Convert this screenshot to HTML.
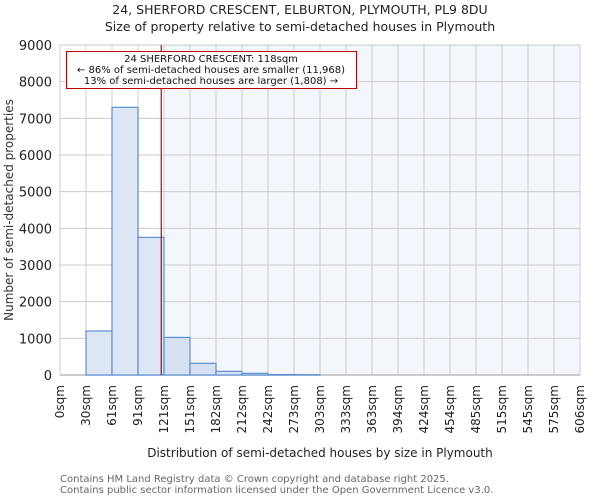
<!DOCTYPE html>
<html><head><meta charset="utf-8"><style>
body{margin:0;background:#fff;font-family:"DejaVu Sans","Liberation Sans",sans-serif;}
svg text{font-family:"DejaVu Sans","Liberation Sans",sans-serif;}
</style></head><body>
<svg id="chart" width="600" height="500" xmlns="http://www.w3.org/2000/svg">
<text x="300" y="14" text-anchor="middle" font-size="12.5" fill="#222">24, SHERFORD CRESCENT, ELBURTON, PLYMOUTH, PL9 8DU</text>
<text x="300" y="31" text-anchor="middle" font-size="12.5" fill="#222">Size of property relative to semi-detached houses in Plymouth</text>
<rect id="shade" y="45" height="330" fill="#f3f6fd"/>
<g id="grid"></g>
<g id="bars"></g>
<g id="yticks"></g>
<g id="xticks"></g>
<line id="marker" y1="45" y2="375" stroke="#c00000" stroke-width="1.2"/>
<rect x="66.5" y="51.5" width="290" height="37" fill="#fff" stroke="#c00000" stroke-width="1"/>
<text x="211" y="62" text-anchor="middle" font-size="10" fill="#111">24 SHERFORD CRESCENT: 118sqm</text>
<text x="211" y="73" text-anchor="middle" font-size="10" fill="#111">← 86% of semi-detached houses are smaller (11,968)</text>
<text x="211" y="84" text-anchor="middle" font-size="10" fill="#111">13% of semi-detached houses are larger (1,808) →</text>
<text transform="translate(13,210) rotate(-90)" text-anchor="middle" font-size="12" fill="#333">Number of semi-detached properties</text>
<text x="320" y="457" text-anchor="middle" font-size="12" fill="#222">Distribution of semi-detached houses by size in Plymouth</text>
<text x="60" y="482" font-size="10" fill="#666">Contains HM Land Registry data © Crown copyright and database right 2025.</text>
<text x="60" y="493" font-size="10" fill="#666">Contains public sector information licensed under the Open Government Licence v3.0.</text>
</svg>
<script>
const binLabels=["0sqm","30sqm","61sqm","91sqm","121sqm","151sqm","182sqm","212sqm","242sqm","273sqm","303sqm","333sqm","363sqm","394sqm","424sqm","454sqm","485sqm","515sqm","545sqm","575sqm","606sqm"];
const counts=[0,1200,7300,3755,1025,318,100,45,12,8,0,0,0,0,0,0,0,0,0,0];
const yTicks=[0,1000,2000,3000,4000,5000,6000,7000,8000,9000];
const propertySize=118;
const binWidthSqm=30.3;
const NS="http://www.w3.org/2000/svg";
const X0=60,X1=580,Y0=375,Y1=45,YMAX=9000;
const nb=counts.length;
const xs=i=>X0+(X1-X0)*i/nb;
const xv=v=>X0+(X1-X0)*v/(binWidthSqm*nb);
const ys=v=>Y0-(Y0-Y1)*v/YMAX;
function mk(t,a,p){const e=document.createElementNS(NS,t);for(const k in a)e.setAttribute(k,a[k]);p.appendChild(e);return e;}
const grid=document.getElementById('grid'),bars=document.getElementById('bars'),yt=document.getElementById('yticks'),xt=document.getElementById('xticks');
const px=xv(propertySize);
const shadeStart=xs(Math.ceil(propertySize/binWidthSqm));
const sh=document.getElementById('shade');sh.setAttribute('x',shadeStart);sh.setAttribute('width',X1-shadeStart);
const mkr=document.getElementById('marker');mkr.setAttribute('x1',px);mkr.setAttribute('x2',px);
yTicks.forEach(v=>{
 const l=mk('line',{x1:X0,x2:X1,y1:ys(v),y2:ys(v),stroke:'#cccccc','stroke-width':1},grid);
 
 
 const t=mk('text',{x:X0-8,y:ys(v)+5,'text-anchor':'end','font-size':'13',fill:'#222'},yt);
 t.textContent=v;
 
 
});
binLabels.forEach((s,i)=>{
 const l=mk('line',{x1:xs(i),x2:xs(i),y1:Y1,y2:Y0,stroke:'#cccccc','stroke-width':1},grid);
 
 
 const x=xs(i)+4,y=Y0+10;
 const t=mk('text',{x:x,y:y,transform:`rotate(-90 ${x} ${y})`,'text-anchor':'end','font-size':'12',fill:'#222'},xt);
 t.textContent=s;
 
 
});
counts.forEach((c,i)=>{
 if(c<=0)return;
 const fill=xs(i)>=shadeStart?'#d6e1f3':'#dce6f4';
 const r=mk('rect',{x:xs(i),y:ys(c),width:xs(i+1)-xs(i),height:Y0-ys(c),fill:fill,stroke:'#5b8fd6','stroke-width':1.2},bars);
 
 
});
const ax=mk('line',{x1:X0,x2:X1,y1:Y0,y2:Y0,stroke:'#bbbbbb','stroke-width':1.5},grid);


</script>
</body></html>
